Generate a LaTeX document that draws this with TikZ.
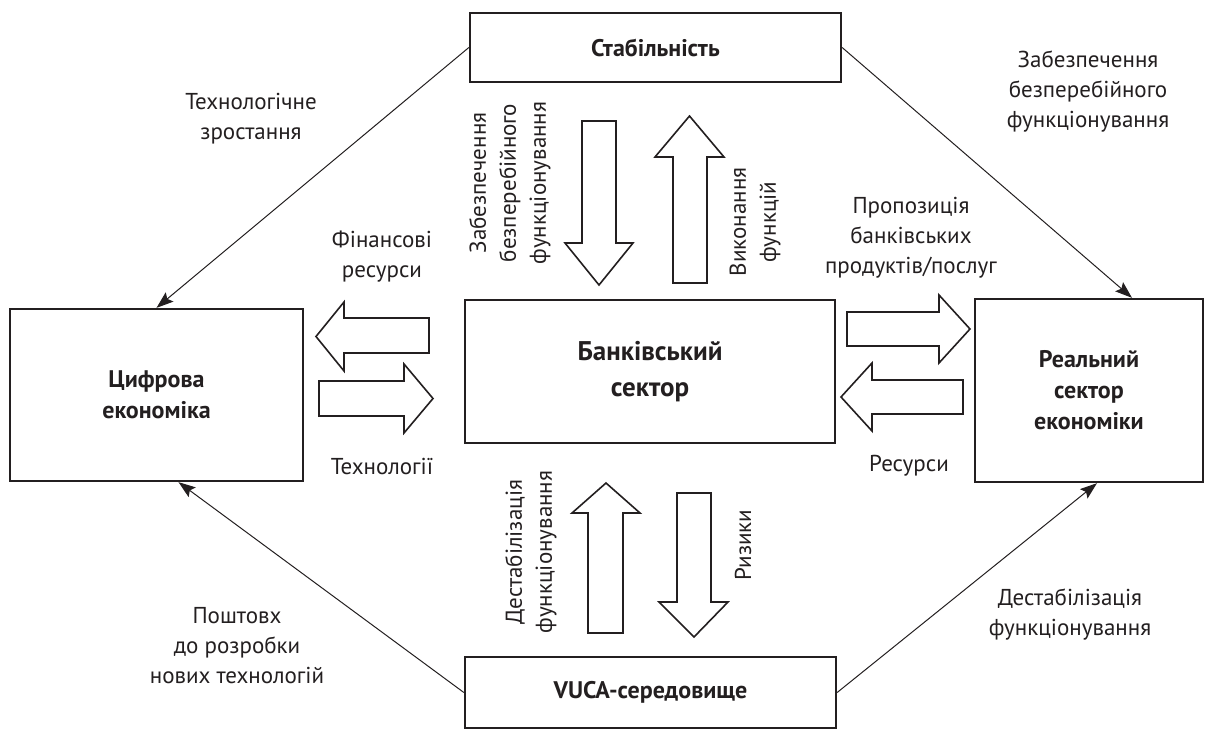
\documentclass[tikz,border=0pt]{standalone}
\usepackage{fontspec}
\setmainfont{PT Sans}
\usetikzlibrary{arrows.meta}
\definecolor{ink}{RGB}{35,31,32}
\begin{document}
\begin{tikzpicture}[x=1pt,y=-1pt,
  box/.style={draw=ink, line width=2.3pt, inner sep=0pt, align=center, text=ink,
    font=\fontsize{24}{31}\selectfont\bfseries},
  lbl/.style={inner sep=0pt, align=center, text=ink, font=\fontsize{23}{30}\selectfont},
  blk/.style={draw=ink, line width=1.6pt, line join=miter, fill=white},
  link/.style={draw=ink, line width=1pt, -{Stealth[length=17pt,width=12pt,inset=3pt]}}]
\useasboundingbox (0,0) rectangle (1211,731);

% boxes
\node[box, minimum width=371pt, minimum height=69pt] (stab) at (655.5,47.5) {Стабільність};
\node[box, minimum width=370pt, minimum height=143pt, font=\fontsize{27}{36}\selectfont\bfseries] (bank) at (650,371.5) {Банківський\\сектор};
\node[box, minimum width=293pt, minimum height=172pt] (cyf) at (156.5,395) {Цифрова\\економіка};
\node[box, minimum width=228pt, minimum height=183pt] (real) at (1089,390.5) {Реальний\\сектор\\економіки};
\node[box, minimum width=371pt, minimum height=71pt] (vuca) at (650.5,692.5) {VUCA-середовище};

% thin connectors
\draw[link] (stab.west) -- (cyf.north);
\draw[link] (stab.east) -- ([xshift=43pt]real.north);
\draw[link] (vuca.west) -- ([xshift=22pt]cyf.south);
\draw[link] (vuca.east) -- ([xshift=8pt]real.south);

% block arrows
\draw[blk] (582,121) -- (616,121) -- (616,243) -- (633,243) -- (599,285) -- (565,243) -- (582,243) -- cycle;
\draw[blk] (673,283) -- (707,283) -- (707,157) -- (724,157) -- (689.5,116) -- (655,157) -- (673,157) -- cycle;
\draw[blk] (429,318) -- (344,318) -- (344,302) -- (316,336.5) -- (344,371) -- (344,353) -- (429,353) -- cycle;
\draw[blk] (319,381) -- (404,381) -- (404,364) -- (433,398.5) -- (404,433) -- (404,416) -- (319,416) -- cycle;
\draw[blk] (847,312) -- (939,312) -- (939,295) -- (970,329) -- (939,363) -- (939,346) -- (847,346) -- cycle;
\draw[blk] (963,380) -- (872,380) -- (872,363) -- (841,397) -- (872,431) -- (872,414) -- (963,414) -- cycle;
\draw[blk] (588,633) -- (623,633) -- (623,513) -- (640,513) -- (606,483) -- (572,513) -- (588,513) -- cycle;
\draw[blk] (677,493) -- (711,493) -- (711,602) -- (728,602) -- (694,637) -- (659,602) -- (677,602) -- cycle;

% labels
\node[lbl] (l1) at (251,119) {Технологічне\\зростання};
\node[lbl] (l2) at (1088,92) {Забезпечення\\безперебійного\\функціонування};
\node[lbl] (l3) at (382,257) {Фінансові\\ресурси};
\node[lbl] (l4) at (911,238) {Пропозиція\\банківських\\продуктів/послуг};
\node[lbl] (l5) at (382,466) {Технології};
\node[lbl] (l6) at (909,466) {Ресурси};
\node[lbl] (l7) at (237,646) {Поштовх\\до розробки\\нових технологій};
\node[lbl] (l8) at (1070,615) {Дестабілізація\\функціонування};
\node[lbl, rotate=90] (l9) at (510,183) {Забезпечення\\безперебійного\\функціонування};
\node[lbl, rotate=90] (l10) at (755,222) {Виконання\\функцій};
\node[lbl, rotate=90] (l11) at (531,552) {Дестабілізація\\функціонування};
\node[lbl, rotate=90] (l12) at (743,545) {Ризики};
\end{tikzpicture}
\end{document}
